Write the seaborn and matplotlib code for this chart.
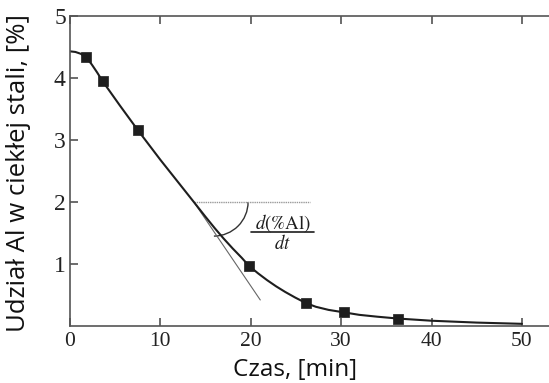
import numpy as np
import pandas as pd
import matplotlib
matplotlib.use("Agg")
import matplotlib.pyplot as plt
from matplotlib.patches import Arc
import seaborn as sns

# measured aluminium content in liquid steel
t_meas = [1.8, 3.6, 7.5, 19.8, 26.1, 30.3, 36.3]
al_meas = [4.34, 3.95, 3.16, 0.97, 0.37, 0.22, 0.12]

# fitted curve through the measurements
t_fit = [0.0, 0.6, 1.2, 1.8, 2.4, 3.0, 3.6, 5.5, 7.5, 10.0, 13.7, 15.0, 16.0, 17.0,
         18.0, 19.0, 19.8, 20.8, 21.8, 22.8, 23.8, 24.9, 26.1, 27.2, 28.6, 30.3,
         32.0, 34.0, 36.3, 40.0, 45.0, 50.0]
al_fit = [4.43, 4.42, 4.39, 4.33, 4.22, 4.09, 3.95, 3.56, 3.16, 2.68, 2.00, 1.76,
          1.58, 1.41, 1.25, 1.10, 0.97, 0.85, 0.74, 0.64, 0.55, 0.46, 0.37, 0.31,
          0.26, 0.22, 0.18, 0.15, 0.12, 0.085, 0.055, 0.035]

# tangent at the 2 % level and the horizontal reference line
t_tan = [13.7, 21.05]
al_tan = [2.0, 0.42]
t_ref = [13.7, 26.5]
al_ref = [2.0, 2.0]

xticks = [0, 10, 20, 30, 40, 50]
yticks = [1, 2, 3, 4, 5]

sns.set_theme(style="ticks")
plt.rcParams["font.family"] = ["Open Sans", "DejaVu Sans"]
plt.rcParams["mathtext.fontset"] = "stix"

fig = plt.figure(figsize=(5.49, 3.83), dpi=100)
W, H = 549, 383
ax = fig.add_axes([70 / W, (H - 326) / H, 1 - 70 / W + 0.01, (326 - 16) / H])

ink = "#1e1e1e"
sns.lineplot(x=t_ref, y=al_ref, ax=ax, color="#9a9a9a", lw=1.0, linestyle=(0, (1, 0.6)))
sns.lineplot(x=t_tan, y=al_tan, ax=ax, color="#666666", lw=0.8)
sns.lineplot(x=t_fit, y=al_fit, ax=ax, color=ink, lw=1.5, sort=False)
sns.scatterplot(x=t_meas, y=al_meas, ax=ax, marker="s", s=60, color=ink,
                edgecolor=ink, linewidth=0.5, zorder=5)

# angle arc between the tangent and the horizontal
ax.add_patch(Arc((15.9, 2.0), width=7.6, height=1.1, theta1=-88, theta2=0,
                 color="#333333", lw=1.0))

ax.text(23.5, 1.66, r"$d(\%\mathrm{Al})$", fontsize=13.5,
        ha="center", va="center", color=ink)
ax.plot([20.0, 27.0], [1.515, 1.515], color=ink, lw=1.2)
ax.text(23.5, 1.33, r"$dt$", fontsize=13.5,
        ha="center", va="center", color=ink)

serif = ["Liberation Serif", "DejaVu Serif"]
ax.set_xlim(0, 53.6)
ax.set_ylim(0, 5)
ax.set_xticks(xticks)
ax.set_yticks(yticks)
ax.set_xticklabels([str(v) for v in xticks], family=serif, fontsize=15.5)
ax.set_yticklabels([str(v) for v in yticks], family=serif, fontsize=17)
ax.tick_params(axis="both", direction="in", length=6, width=1.1, colors="#444444",
               labelcolor="#222222", pad=3)
ax.tick_params(axis="x", top=True, pad=4)

for side in ["left", "bottom", "top"]:
    ax.spines[side].set_color("#555555")
    ax.spines[side].set_linewidth(1.2)
ax.spines["right"].set_visible(False)

ax.set_xlabel("")
ax.set_ylabel("")
fig.text(295 / W, 1 - 370 / H, "Czas, [min]", ha="center", va="center",
         fontsize=17.5, color="#111111")
fig.text(19 / W, 1 - 173 / H, "Udział Al w ciekłej stali, [%]", ha="center",
         va="center", rotation=90, fontsize=18.5, color="#111111")

fig.savefig("out.png", dpi=100)
